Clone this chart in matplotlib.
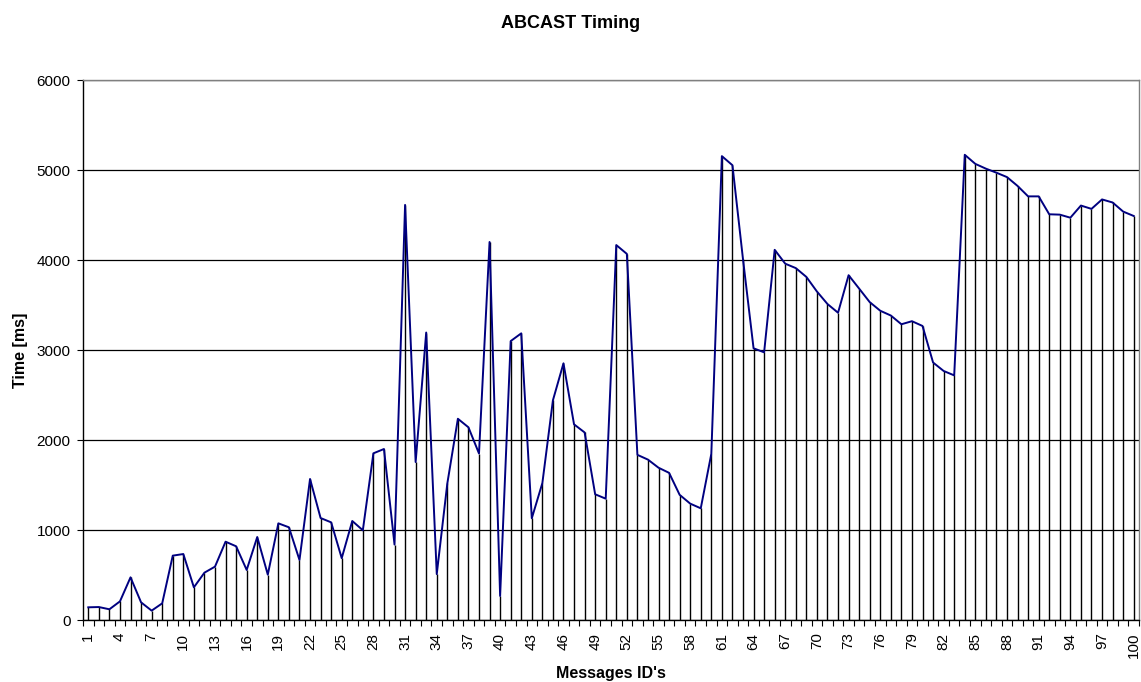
import numpy as np
import matplotlib
matplotlib.use('Agg')
import matplotlib.pyplot as plt

plt.rcParams['font.family'] = ['Liberation Sans', 'DejaVu Sans']

# message ids and timing values (ms)
msg_ids = list(range(1, 101))
times = [
    141, 144, 119, 207, 474, 196, 104, 185, 715, 733,
    363, 526, 593, 870, 819, 556, 922, 504, 1074, 1030,
    667, 1567, 1133, 1085, 687, 1100, 997, 1852, 1900, 838,
    4612, 1755, 3194, 510, 1517, 2236, 2141, 1850, 4200, 267,
    3099, 3185, 1130, 1521, 2441, 2852, 2174, 2084, 1397, 1348,
    4166, 4068, 1835, 1782, 1692, 1635, 1391, 1293, 1241, 1846,
    5154, 5053, 4008, 3019, 2974, 4113, 3959, 3910, 3812, 3650,
    3511, 3414, 3831, 3682, 3532, 3436, 3383, 3286, 3320, 3267,
    2861, 2767, 2718, 5169, 5068, 5015, 4970, 4921, 4823, 4707,
    4707, 4508, 4504, 4470, 4605, 4568, 4673, 4639, 4538, 4489,
]
tick_ids = msg_ids[::3]
y_ticks = [0, 1000, 2000, 3000, 4000, 5000, 6000]


fig = plt.figure(figsize=(11.41, 6.82), dpi=100)
ax = fig.add_axes([83 / 1141, 62 / 682, 1056 / 1141, 540 / 682])

x = np.array(msg_ids)
y = np.array(times)

# drop lines then the series on top
ax.vlines(x, 0, y, colors='black', lw=1.0, zorder=2)
ax.plot(x, y, color='#000080', lw=1.4, zorder=3)

ax.set_xlim(0.5, 100.5)
ax.set_ylim(0, 6000)
ax.set_yticks(y_ticks)
ax.set_yticklabels([str(v) for v in y_ticks], fontsize=11)
ax.yaxis.grid(True, color='black', lw=0.9)
ax.set_axisbelow(True)

# category ticks sit between categories, labels every 3rd id
ax.set_xticks(np.arange(0.5, 101, 1.0))
ax.set_xticklabels([])
ax.set_xticks(tick_ids, minor=True)
ax.set_xticklabels([str(v) for v in tick_ids], minor=True, rotation=90, fontsize=11)
ax.tick_params(axis='x', which='major', length=4, width=0.8, color='black')
ax.tick_params(axis='x', which='minor', length=0, pad=9)
ax.tick_params(axis='y', length=4, width=0.8, pad=5)

ax.spines['left'].set_color('black')
ax.spines['bottom'].set_color('black')
ax.spines['top'].set_color('#808080')
ax.spines['right'].set_color('#808080')
for s in ax.spines.values():
    s.set_linewidth(1.0)

ax.set_ylabel('Time [ms]', fontsize=11.5, fontweight='bold', labelpad=6)
ax.set_xlabel("Messages ID's", fontsize=11.5, fontweight='bold', labelpad=6)
fig.text(0.5, 1 - 24 / 682, 'ABCAST Timing', fontsize=13, fontweight='bold',
         ha='center', va='center')

fig.savefig('out.png', dpi=100)
